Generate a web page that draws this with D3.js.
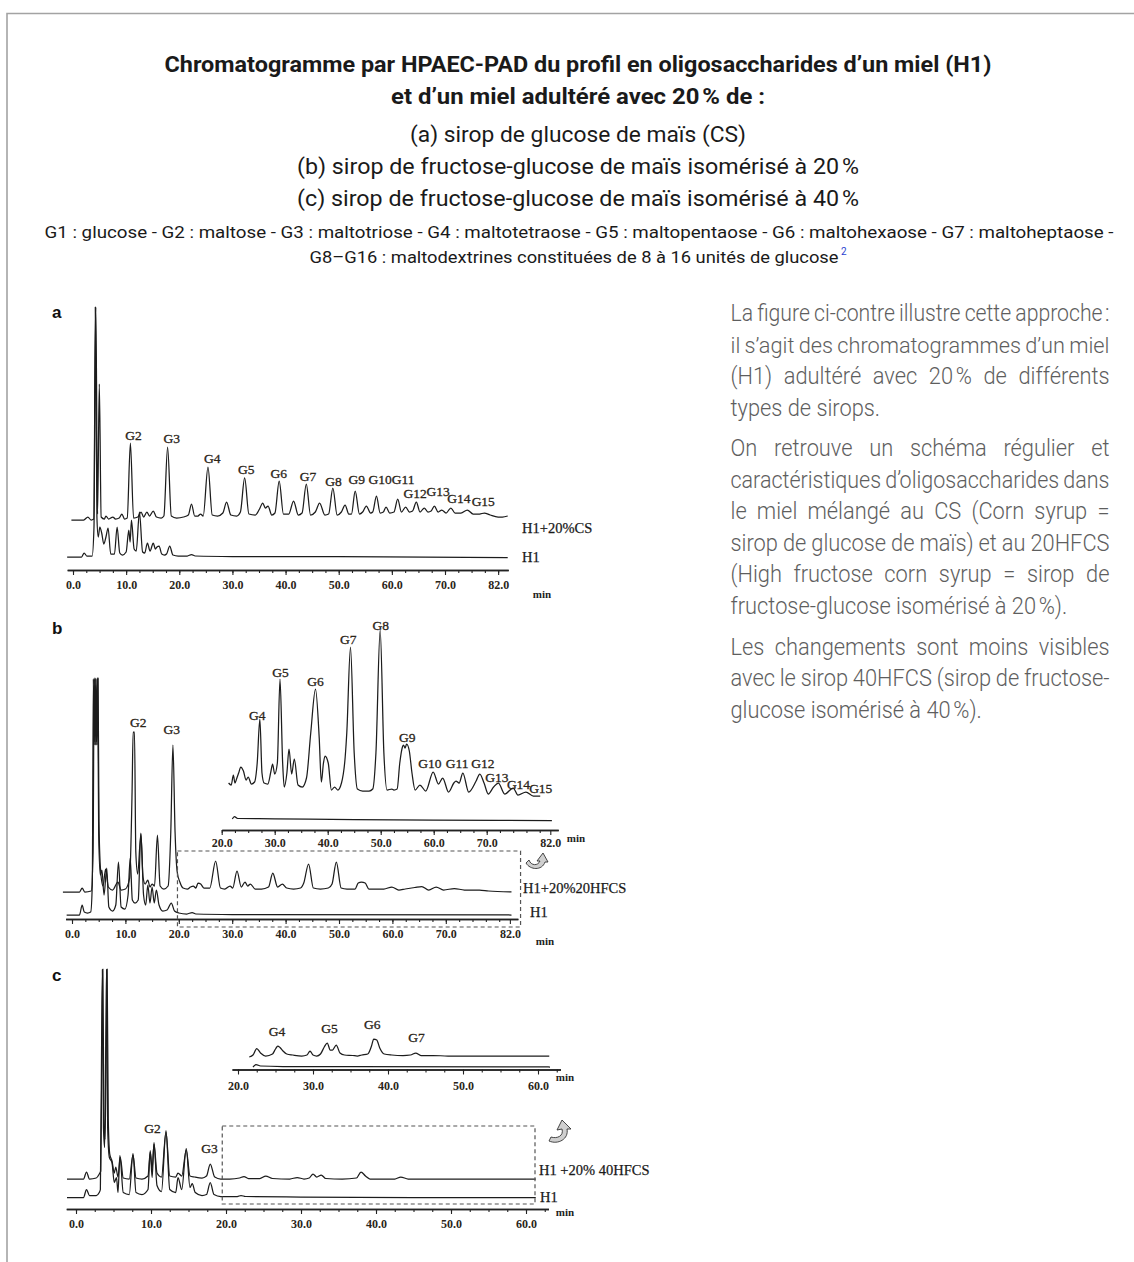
<!DOCTYPE html>
<html lang="fr">
<head>
<meta charset="UTF-8">
<meta name="viewport" content="width=device-width, initial-scale=1.0">
<title>Chromatogrammes HPAEC-PAD</title>
<style>
  html, body { margin: 0; padding: 0; background: #fff; }
  #main-svg { display: block; }
  .frame { fill: none; stroke: #a3a3a3; stroke-width: 1.6; }
  .t-bold { font-family: "Liberation Sans Narrow", Roboto, "Liberation Sans", sans-serif; font-weight: 700; font-size: 22px; fill: #1a1a1a; }
  .t-sub { font-family: "Liberation Sans Narrow", Roboto, "Liberation Sans", sans-serif; font-weight: 400; font-size: 22px; fill: #1a1a1a; }
  .t-key { font-family: "Liberation Sans Narrow", Roboto, "Liberation Sans", sans-serif; font-weight: 400; font-size: 16px; fill: #1a1a1a; }
  .t-sup { font-family: Roboto, sans-serif; font-size: 10px; fill: #2b3fd0; }
  .para-text { font-family: Roboto, "Liberation Sans", sans-serif; font-weight: 300; font-size: 23px; fill: #5e5e5e; }
  .panel-letter { font-family: "Liberation Sans", Arial, sans-serif; font-weight: 700; font-size: 17px; fill: #111; }
  .trace { fill: none; stroke: #1c1c1c; stroke-width: 1.25; stroke-linejoin: round; }
  .axis path.domain { stroke: #222; stroke-width: 1.7; }
  .axis line { stroke: #222; stroke-width: 1.1; }
  .axis text { font-family: "Liberation Serif", "Times New Roman", serif; font-weight: 700; font-size: 12px; fill: #2b2519; }
  .peak-label { font-family: "Liberation Serif", "Times New Roman", serif; font-size: 13.5px; fill: #2b2519; stroke: #2b2519; stroke-width: 0.3; }
  .trace-name { font-family: "Liberation Serif", "Times New Roman", serif; font-size: 14.5px; fill: #1a1a1a; stroke: #1a1a1a; stroke-width: 0.25; }
  .unit { font-family: "Liberation Serif", "Times New Roman", serif; font-weight: 700; font-size: 11px; fill: #222; }
  .zoom-box { fill: none; stroke: #555; stroke-width: 1.2; stroke-dasharray: 4 3; }
  .zoom-arrow { fill: #cfcfcf; stroke: #333; stroke-width: 0.9; }
</style>
</head>
<body>
<svg id="main-svg" width="1134" height="1262"></svg>

<script src="https://cdn.jsdelivr.net/npm/d3@7"></script>
<script>
// ---- texts ----
const titleLines = [
  'Chromatogramme par HPAEC-PAD du profil en oligosaccharides d’un miel (H1)',
  'et d’un miel adultéré avec 20\u202F% de :'
];
const syrupLines = [
  '(a) sirop de glucose de maïs (CS)',
  '(b) sirop de fructose-glucose de maïs isomérisé à 20\u202F%',
  '(c) sirop de fructose-glucose de maïs isomérisé à 40\u202F%'
];
const keyLines = [
  'G1 : glucose - G2 : maltose - G3 : maltotriose - G4 : maltotetraose - G5 : maltopentaose - G6 : maltohexaose - G7 : maltoheptaose -',
  'G8–G16 : maltodextrines constituées de 8 à 16 unités de glucose'
];
const keyNote = '2';
const paragraphs = [
  ['La figure ci-contre illustre cette approche\u202F:',
   'il s’agit des chromatogrammes d’un miel',
   '(H1) adultéré avec 20\u202F% de différents',
   'types de sirops.'],
  ['On retrouve un schéma régulier et',
   'caractéristiques d’oligosaccharides dans',
   'le miel mélangé au CS (Corn syrup =',
   'sirop de glucose de maïs) et au 20HFCS',
   '(High fructose corn syrup = sirop de',
   'fructose-glucose isomérisé à 20\u202F%).'],
  ['Les changements sont moins visibles',
   'avec le sirop 40HFCS (sirop de fructose-',
   'glucose isomérisé à 40\u202F%).']
];
const unitLabel = 'min';

// ---- axes ----
const aTicks = [0, 10, 20, 30, 40, 50, 60, 70, 80];
const aTickLabels = ['0.0', '10.0', '20.0', '30.0', '40.0', '50.0', '60.0', '70.0', '82.0'];
const bTicks = [0, 10, 20, 30, 40, 50, 60, 70, 82];
const bTickLabels = ['0.0', '10.0', '20.0', '30.0', '40.0', '50.0', '60.0', '70.0', '82.0'];
const bInsetTicks = [20, 30, 40, 50, 60, 70, 82];
const bInsetTickLabels = ['20.0', '30.0', '40.0', '50.0', '60.0', '70.0', '82.0'];
const cTicks = [0, 10, 20, 30, 40, 50, 60];
const cTickLabels = ['0.0', '10.0', '20.0', '30.0', '40.0', '50.0', '60.0'];
const cInsetTicks = [20, 30, 40, 50, 60];
const cInsetTickLabels = ['20.0', '30.0', '40.0', '50.0', '60.0'];

const aNames = ['H1+20%CS', 'H1'];
const bNames = ['H1+20%20HFCS', 'H1'];
const cNames = ['H1 +20% 40HFCS', 'H1'];

// ---- traces: [retention time (min), detector response] ----
const aSpiked = [[-0.3,0],[2.0,0],[2.8,3],[3.4,0],[3.9,1],[4.3,213],[4.62,6],[4.95,136],[5.3,3],[5.9,1],[6.2,4],[6.7,1],[7.5,3],[8.0,1],[8.7,2],[9.2,6],[9.7,1],[10.2,2],[10.8,77],[11.4,2],[12.2,3],[12.8,8],[13.3,3],[13.9,8],[14.4,4],[15.1,9],[15.7,3],[16.6,2],[17.1,4],[17.8,73],[18.5,4],[19.5,2],[20.8,3],[21.7,5],[22.3,16],[22.9,4],[23.5,4],[24.0,6],[24.5,4],[25.4,53],[26.2,5],[27.2,4],[28.2,7],[28.9,18],[29.7,5],[30.8,4],[31.5,8],[32.3,42],[33.1,6],[34.3,5],[35.1,11],[35.7,17],[36.2,12],[36.7,14],[37.4,5],[38.0,7],[38.8,39],[39.6,6],[40.6,6],[41.5,19],[42.4,5],[43.1,7],[43.9,36],[44.7,5],[45.6,8],[46.4,17],[47.4,5],[48.1,6],[48.9,32],[49.7,5],[50.5,8],[51.2,15],[51.9,6],[52.4,6],[53.1,29],[53.9,6],[54.5,8],[55.2,14],[56.0,7],[56.4,8],[57.1,24],[57.8,7],[58.4,8],[58.9,13],[59.6,7],[60.4,8],[61.1,21],[61.8,8],[62.6,13],[63.3,8],[63.9,9],[64.6,18],[65.3,8],[66.1,12],[66.8,8],[67.4,9],[68.0,14],[68.7,8],[69.4,10],[70.2,7],[71.1,12],[71.9,7],[73.0,7],[74.2,10],[75.3,6],[76.5,6],[77.4,7],[78.5,5],[80.0,3],[80.8,3],[81.8,4]];
const aHoney = [[-1.1,0],[1.6,0],[2.1,4],[2.6,1],[3.6,1],[3.95,30],[4.2,250],[4.5,40],[4.75,20],[5.05,30],[5.4,24],[5.8,13],[6.2,20],[6.6,29],[7.1,3],[7.8,3],[8.3,30],[8.8,4],[9.3,2],[10.0,5],[10.5,27],[10.75,15],[11.0,37],[11.5,8],[11.9,6],[12.5,45],[13.1,5],[13.5,4],[14.0,14],[14.5,6],[15.1,14],[15.5,8],[15.8,10],[16.2,11],[16.7,3],[17.2,2],[17.6,3],[18.2,11],[18.8,2],[19.8,1],[21.5,1],[22.3,2.5],[23.0,1],[30,0.5],[50,0.3],[81.8,-0.5]];
const aPeaks = [['G2',11.4,85],['G3',18.6,82],['G4',26.2,62],['G5',32.6,51],['G6',38.7,47],['G7',44.2,44],['G8',49.0,39],['G9',53.4,41],['G10',57.8,41],['G11',62.1,41],['G12',64.4,27],['G13',68.7,29],['G14',72.6,22],['G15',77.2,19]];

const bSpiked = [[-1.7,0],[1.4,0],[1.9,4],[2.4,0],[3.6,1],[3.95,40],[4.15,214],[4.3,150],[4.45,214],[4.6,150],[4.75,214],[4.88,214],[5.05,70],[5.35,22],[5.8,6],[6.3,23],[6.8,5],[7.6,2],[8.6,10],[9.2,2],[10.0,3],[10.8,14],[11.25,100],[11.45,160],[11.7,160],[11.95,40],[12.3,18],[12.9,58],[13.3,15],[13.7,8],[14.2,12],[14.6,5],[15.0,8],[15.45,6],[16.0,57],[16.5,6],[17.2,3],[18.0,6],[18.5,60],[18.9,147],[19.3,60],[19.7,20],[20.2,10],[20.8,4],[21.6,3],[22.2,5],[22.7,6],[23.2,4],[23.6,9],[24.1,8],[24.7,4],[25.8,4],[26.9,31],[27.8,4],[28.6,3],[29.6,6],[30.1,4],[30.9,21],[31.7,5],[32.4,10],[32.9,6],[33.4,8],[34.3,3],[35.5,3],[36.8,5],[37.6,19],[38.5,5],[39.4,8],[40.2,4],[41.5,3],[42.8,4],[43.4,9],[44.3,28],[45.2,4],[46.5,3],[48.0,4],[48.7,8],[49.5,30],[50.4,4],[51.5,3],[53.0,3],[53.6,9],[54.2,10],[54.9,9],[55.6,3],[57.0,3],[58.4,3],[59.9,5],[61.2,2],[62.4,3],[64.2,4.5],[65.5,5.5],[66.8,2],[68.2,5],[69.6,2],[71.6,3.5],[73.5,2],[76.3,2],[78.0,1],[82.3,0]];
const bHoney = [[-1.0,0],[1.4,0],[1.9,10],[2.3,3],[2.9,2],[3.5,3],[3.8,30],[4.0,236],[4.12,170],[4.24,236],[4.37,170],[4.5,236],[4.63,170],[4.8,236],[5.0,80],[5.3,40],[5.6,45],[6.0,20],[6.5,47],[6.9,8],[7.6,4],[8.2,10],[8.7,53],[9.2,8],[9.9,6],[10.5,20],[10.9,57],[11.3,15],[11.8,12],[12.4,15],[12.9,82],[13.4,20],[13.8,10],[14.2,30],[14.6,12],[15.0,28],[15.4,12],[15.8,25],[16.3,10],[17.0,4],[17.8,5],[18.6,12],[19.2,4],[20.0,2],[21.5,1],[22.5,2.5],[23.2,1],[30,0.5],[82.3,0]];
const bPeaks = [['G2',12.4,170],['G3',18.7,163]];

const bInsetSpiked = [[21.3,10],[21.8,8],[22.2,18],[22.5,10],[22.8,14],[23.2,20],[23.6,26],[24.1,22],[24.6,13],[25.0,16],[25.6,9],[26.2,11],[26.7,30],[27.2,74],[27.6,20],[28.0,10],[28.7,9],[29.3,22],[29.6,29],[30.0,19],[30.5,30],[31.0,114],[31.5,30],[31.8,6],[32.3,20],[32.7,44],[33.2,19],[33.7,34],[34.4,8],[35.2,6],[36.0,15],[36.8,60],[37.7,104],[38.4,55],[38.8,11],[39.2,30],[39.5,37],[40.1,30],[40.7,3],[41.3,6],[41.9,3],[42.6,10],[43.3,36],[43.6,60],[44.3,146],[45.0,40],[45.6,4],[46.6,2],[47.8,2],[48.5,4],[49.1,40],[49.9,163],[50.6,40],[51.2,3],[52.1,4],[52.5,3],[53.1,4],[53.6,30],[54.1,46],[54.3,48],[54.6,45],[54.9,49],[55.4,42],[55.9,20],[56.5,3],[57.4,8],[58.5,2],[59.9,21],[60.9,9],[61.7,15],[62.8,1],[63.8,10],[64.2,12],[64.8,10],[65.5,20],[66.6,1],[68.0,12],[68.7,19],[69.5,10],[70.3,-1],[71.3,6],[72.2,10],[73.4,-1],[75.0,5],[75.9,-2],[77.4,1],[78.8,-3],[80.1,-3]];
const bInsetHoney = [[22.0,1],[22.4,3.5],[23.0,1.5],[30,1.2],[45,0.5],[60,0],[82.3,-0.5]];
const bInsetPeaks = [['G4',26.7,78],['G5',31.1,121],['G6',37.7,112],['G7',43.9,154],['G8',50.0,168],['G9',55.0,56],['G10',59.3,30],['G11',64.4,30],['G12',69.3,30],['G13',71.9,16],['G14',76.0,9],['G15',80.2,5]];

const cSpiked = [[-1.2,0],[1.0,0],[1.4,7],[1.8,0],[2.7,1],[3.1,5],[3.3,8],[3.48,150],[3.58,210],[3.72,60],[3.88,40],[4.05,150],[4.15,210],[4.3,60],[4.5,25],[4.8,18],[5.1,6],[5.3,12],[5.6,2],[5.9,22],[6.3,1],[7.1,0],[7.6,24],[8.0,1],[8.8,0],[9.6,3],[9.9,27],[10.15,10],[10.4,35],[10.8,6],[11.4,2],[12.0,47],[12.5,3],[13.3,2],[13.6,6],[14.1,3],[14.7,29],[15.2,3],[15.8,2],[16.8,1],[17.4,3],[17.9,15],[18.5,2],[19.3,0],[20.5,0],[21.8,1],[22.4,2.5],[23.0,0.5],[24.5,0.5],[25.3,3],[26.2,0.5],[28.5,0],[29.5,1.5],[30.4,0],[31.1,1],[31.6,5],[32.1,2],[32.7,4],[33.3,0.5],[35.5,0],[37.4,1],[38.0,7],[38.6,3],[39.2,0],[42.5,0],[43.3,2],[44.3,0],[47.0,0],[61.3,0]];
const cHoney = [[-1.2,0],[1.0,0],[1.4,8],[1.8,2],[2.7,2],[3.1,5],[3.25,8],[3.42,160],[3.52,228],[3.66,70],[3.82,50],[3.98,160],[4.08,228],[4.22,70],[4.45,40],[4.8,35],[5.1,15],[5.4,20],[5.6,5],[5.85,42],[6.3,5],[7.1,3],[7.6,44],[8.0,5],[8.8,3],[9.6,8],[9.9,47],[10.15,20],[10.4,55],[10.8,12],[11.4,6],[12.0,67],[12.5,8],[13.3,5],[13.6,20],[14.1,8],[14.7,49],[15.2,10],[15.5,14],[15.9,5],[16.8,2],[17.4,3],[17.9,15],[18.4,3],[19.3,1],[21.5,1],[22.0,2],[22.6,1],[30,0.5],[45,0],[61.3,0]];
const cPeaks = [['G2',10.2,51],['G3',17.8,31]];

const cInsetSpiked = [[21.5,-1],[22.0,1],[22.5,7.5],[23.0,3],[23.7,0],[24.6,2],[25.0,7],[25.3,10],[25.6,8.5],[26.0,5],[26.5,2],[27.3,1],[28.5,0],[29.2,1],[29.6,5],[30.0,1],[30.5,0],[31.0,2],[31.5,9],[31.9,13],[32.3,6],[32.6,6],[33.1,11],[33.6,3],[34.2,1],[35.3,0.5],[35.9,0],[36.5,1],[37.3,2],[37.8,10],[38.1,17],[38.5,16],[38.9,8],[39.5,2],[40.5,1],[42.0,0.5],[43.0,1],[43.7,3],[44.4,0.5],[46.0,0.5],[48.0,0],[61.5,0]];
const cInsetHoney = [[22.0,0],[22.4,2.5],[23.0,1],[26.0,0.5],[35.0,0.3],[61.6,0]];
const cInsetPeaks = [['G4',25.2,25],['G5',32.2,28],['G6',37.9,32],['G7',43.8,19]];

// ---- layout ----
const panels = [
  { letter: 'a', letterPos: [52, 318], blocks: [
    { x: { domain: [0, 70], range: [73, 445] },
      axis: { y: 570, extent: [-1.1, 81.9], minor: [0, 80], pad: 5.5, ticks: aTicks, labels: aTickLabels, unit: [542, 598] },
      traces: [ { data: aSpiked, base: 520, name: aNames[0], nameAt: [522, 533] },
                { data: aHoney, base: 557, name: aNames[1], nameAt: [522, 562] } ],
      peaks: aPeaks }
  ]},
  { letter: 'b', letterPos: [52, 634], box: { t: [19.75, 84], y: [851, 927] }, arrow: [536, 861], blocks: [
    { x: { domain: [0, 70], range: [72, 445.8] },
      axis: { y: 919, extent: [-1.2, 83.5], minor: [0, 80], pad: 5.5, ticks: bTicks, labels: bTickLabels, unit: [545, 944.5] },
      traces: [ { data: bSpiked, base: 892, name: bNames[0], nameAt: [523, 893] },
                { data: bHoney, base: 915, name: bNames[1], nameAt: [530, 917] } ],
      peaks: bPeaks },
    { x: { domain: [20, 70], range: [221.7, 486.7] },
      axis: { y: 830, extent: [20, 83.5], minor: [20, 80], pad: 3.5, ticks: bInsetTicks, labels: bInsetTickLabels, unit: [576, 841.5] },
      traces: [ { data: bInsetSpiked, base: 793 }, { data: bInsetHoney, base: 820 } ],
      peaks: bInsetPeaks }
  ]},
  { letter: 'c', letterPos: [52, 981], box: { t: [19.5, 61.2], y: [1126, 1204] }, arrow: [560, 1132], blocks: [
    { x: { domain: [0, 60], range: [76, 526] },
      axis: { y: 1209, extent: [-1.3, 63], minor: [0, 62.5], pad: 5, ticks: cTicks, labels: cTickLabels, unit: [565, 1216] },
      traces: [ { data: cSpiked, base: 1179, name: cNames[0], nameAt: [539, 1175] },
                { data: cHoney, base: 1197.5, name: cNames[1], nameAt: [540, 1202] } ],
      peaks: cPeaks },
    { x: { domain: [20, 60], range: [238, 538] },
      axis: { y: 1069.5, extent: [19.2, 63], minor: [20, 62.5], pad: 6.5, ticks: cInsetTicks, labels: cInsetTickLabels, unit: [565, 1080.5] },
      traces: [ { data: cInsetSpiked, base: 1056 }, { data: cInsetHoney, base: 1067 } ],
      peaks: cInsetPeaks }
  ]}
];

const arrowPaths = {
  b: 'M-10,2 C-6,9 6,10 9,1 L12,1 L7,-8 L1,0 L4,0 C2,5 -5,5 -7,-1 Z',
  c: 'M-11,9 C-2,13 9,7 7,-3 L11,-3 L2,-12 L-3,-2 L2,-3 C4,4 -3,7 -9,5 Z'
};

const svg = d3.select('#main-svg');

// page frame
svg.append('path').attr('class', 'frame').attr('d', 'M7,1262 V13.5 H1134');

// ---- heading ----
const headX = 578;
const head = svg.append('g');
const headRows = [
  { text: titleLines[0], cls: 't-bold', y: 71.5, w: 827 },
  { text: titleLines[1], cls: 't-bold', y: 104, w: 374 },
  { text: syrupLines[0], cls: 't-sub', y: 142, w: 336 },
  { text: syrupLines[1], cls: 't-sub', y: 174, w: 562 },
  { text: syrupLines[2], cls: 't-sub', y: 205.5, w: 562 },
  { text: keyLines[0], cls: 't-key', y: 238, w: 1069, cx: 579 },
  { text: keyLines[1], cls: 't-key', y: 262.5, w: 529, cx: 574 }
];
headRows.forEach(r => {
  head.append('text').attr('class', r.cls)
    .attr('x', r.cx || headX).attr('y', r.y)
    .attr('text-anchor', 'middle')
    .attr('textLength', r.w).attr('lengthAdjust', 'spacingAndGlyphs')
    .text(r.text);
});
head.append('text').attr('class', 't-sup').attr('x', 841).attr('y', 255).text(keyNote);

// ---- paragraph on the right, justified word by word ----
const paraX = 730.5, paraW = 379, lineH = 31.5, minGap = 4.5;
const paraTop = [321.5, 456.5, 655];
const para = svg.append('g');
const probe = para.append('text').attr('class', 'para-text').text(paragraphs[1][5]);
const sx = 337 / probe.node().getComputedTextLength();
probe.remove();
para.attr('transform', `translate(${paraX},0) scale(${sx},1)`);
const W = paraW / sx;
paragraphs.forEach((lines, pi) => {
  lines.forEach((line, li) => {
    const t = para.append('text').attr('class', 'para-text').attr('y', paraTop[pi] + li * lineH);
    if (li === lines.length - 1) { t.attr('x', 0).text(line); return; }
    const words = line.split(' ');
    const spans = words.map(w => t.append('tspan').text(w));
    const widths = spans.map(s => s.node().getComputedTextLength());
    const total = d3.sum(widths);
    let gap = (W - total) / (words.length - 1);
    if (gap < minGap) {
      // too long for the column: keep a real word space and squeeze the line instead
      gap = minGap;
      t.attr('transform', `scale(${W / (total + minGap * (words.length - 1))},1)`);
    }
    let cx = 0;
    spans.forEach((s, i) => { s.attr('x', cx); cx += widths[i] + gap; });
  });
});

// ---- chromatograms ----
function drawBlock(g, b) {
  const x = d3.scaleLinear().domain(b.x.domain).range(b.x.range);
  const ax = b.axis;
  const xa = d3.scaleLinear().domain(ax.extent).range(ax.extent.map(x));

  g.append('g').attr('class', 'axis').attr('transform', `translate(0,${ax.y})`)
    .call(d3.axisBottom(xa).tickValues(d3.range(ax.minor[0], ax.minor[1] + 0.01, 2.5))
      .tickSizeInner(3).tickSizeOuter(0).tickFormat(''));
  g.append('g').attr('class', 'axis').attr('transform', `translate(0,${ax.y})`)
    .call(d3.axisBottom(xa).tickValues(ax.ticks).tickSizeInner(5).tickSizeOuter(0)
      .tickPadding(ax.pad).tickFormat(d => ax.labels[ax.ticks.indexOf(d)]));
  g.append('text').attr('class', 'unit').attr('x', ax.unit[0]).attr('y', ax.unit[1])
    .attr('text-anchor', 'middle').text(unitLabel);

  const ys = b.traces.map(tr => d3.scaleLinear().domain([0, 100]).range([tr.base, tr.base - 100]));
  b.traces.forEach((tr, i) => {
    const line = d3.line().x(d => x(d[0])).y(d => ys[i](d[1])).curve(d3.curveMonotoneX);
    g.append('path').datum(tr.data).attr('class', 'trace').attr('d', line);
    if (tr.name) {
      g.append('text').attr('class', 'trace-name')
        .attr('x', tr.nameAt[0]).attr('y', tr.nameAt[1]).text(tr.name);
    }
  });

  g.append('g').selectAll('text').data(b.peaks).join('text')
    .attr('class', 'peak-label')
    .attr('x', d => x(d[1])).attr('y', d => ys[0](d[2]))
    .attr('dy', '0.35em').attr('text-anchor', 'middle')
    .text(d => d[0]);
  return x;
}

panels.forEach(p => {
  const g = svg.append('g').attr('class', 'panel-' + p.letter);
  g.append('text').attr('class', 'panel-letter')
    .attr('x', p.letterPos[0]).attr('y', p.letterPos[1]).text(p.letter);
  const scales = p.blocks.map(b => drawBlock(g, b));
  if (p.box) {
    const x = scales[0];
    g.append('rect').attr('class', 'zoom-box')
      .attr('x', x(p.box.t[0])).attr('y', p.box.y[0])
      .attr('width', x(p.box.t[1]) - x(p.box.t[0]))
      .attr('height', p.box.y[1] - p.box.y[0]);
  }
  if (p.arrow) {
    g.append('path').attr('class', 'zoom-arrow')
      .attr('transform', `translate(${p.arrow[0]},${p.arrow[1]})`)
      .attr('d', arrowPaths[p.letter]);
  }
});
</script>
</body>
</html>
